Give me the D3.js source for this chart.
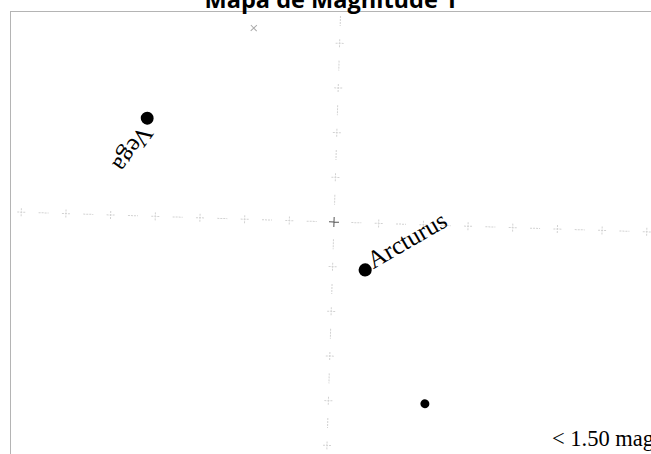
<!DOCTYPE html>
<html>
<head>
<meta charset="utf-8">
<script src="https://cdn.jsdelivr.net/npm/d3@7"></script>
<style>
  html, body { margin: 0; padding: 0; background: #fff; overflow: hidden; }
  svg { display: block; }
</style>
</head>
<body>
<div id="chart"></div>
<script>
// stars in map units (one unit = one grid step)
const starNames = ["Vega", "Arcturus", ""];
const starX = [-4.25, 0.73, 2.16];
const starY = [-2.19, 1.05, 4.0];
const starMag = [0.03, -0.05, 1.25];
const labelAngle = [126, -30, 0];

// grid marks along the two axes
const crossX = [-7, -6, -5, -4, -3, -2, -1, 1, 2, 3, 4, 5, 6, 7];
const crossY = [-4, -3, -2, -1, 1, 2, 3, 4, 5];
const dashX = [-6.5, -5.5, -4.5, -3.5, -2.5, -1.5, -0.5, 0.5, 1.5, 2.5, 3.5, 4.5, 5.5, 6.5, 7.5];
const dashY = [-4.5, -3.5, -2.5, -1.5, -0.5, 0.5, 1.5, 2.5, 3.5, 4.5];
const poleMark = [-1.93, -4.28];

const title = "Mapa de Magnitude 1";
const limitLabel = "< 1.50 mag";

const width = 651;
const height = 454;
const cx = 334, cy = 222, tilt = 1.8, step = 44.7;

const svg = d3.select("#chart")
  .append("svg")
  .attr("width", width)
  .attr("height", height);

// frame
svg.append("rect")
  .attr("x", 10.5).attr("y", 11.5)
  .attr("width", 800).attr("height", 600)
  .attr("fill", "none")
  .attr("stroke", "#b4b4b4");

// title
const t = svg.append("text")
  .attr("x", 331).attr("y", 8)
  .attr("text-anchor", "middle")
  .attr("font-family", "Open Sans, sans-serif")
  .attr("font-weight", "bold")
  .attr("font-size", 20)
  .text(title);
const tw = t.node().getComputedTextLength();
t.attr("font-size", 20 * 253 / tw);

const x = d3.scaleLinear().domain([0, 1]).range([0, step]);
const y = d3.scaleLinear().domain([0, 1]).range([0, step]);
const r = d3.scaleLinear().domain([1.25, 0]).range([4.5, 6.5]);

const map = svg.append("g")
  .attr("transform", `translate(${cx},${cy}) rotate(${tilt})`);

const grid = map.append("g")
  .attr("stroke", "#d2d2d2")
  .attr("stroke-width", 1)
  .attr("stroke-dasharray", "2,1")
  .attr("fill", "none");

// crosses
grid.selectAll(".cx")
  .data(crossX)
  .join("path")
  .attr("d", d => `M${x(d) - 4},0H${x(d) + 4}M${x(d)},-4V4`);
grid.selectAll(".cy")
  .data(crossY)
  .join("path")
  .attr("d", d => `M-4,${y(d)}H4M0,${y(d) - 4}V${y(d) + 4}`);

// dashes between crosses
grid.selectAll(".dx")
  .data(dashX)
  .join("path")
  .attr("d", d => `M${x(d) - 5},0H${x(d) + 5}`);
grid.selectAll(".dy")
  .data(dashY)
  .join("path")
  .attr("d", d => `M0,${y(d) - 5}V${y(d) + 5}`);

// centre cross
map.append("path")
  .attr("d", "M-5,0H5M0,-5V5")
  .attr("stroke", "#555")
  .attr("stroke-width", 1);

// pole mark
map.append("path")
  .attr("d", `M${x(poleMark[0]) - 3},${y(poleMark[1]) - 3}l6,6M${x(poleMark[0]) + 3},${y(poleMark[1]) - 3}l-6,6`)
  .attr("stroke", "#aaa")
  .attr("stroke-width", 1);

// stars
const stars = starNames.map((n, i) => ({ name: n, x: starX[i], y: starY[i], mag: starMag[i], angle: labelAngle[i] }));

map.selectAll("circle")
  .data(stars)
  .join("circle")
  .attr("cx", d => x(d.x))
  .attr("cy", d => y(d.y))
  .attr("r", d => r(d.mag))
  .attr("fill", "#000");

const labelOffset = { "Vega": [-6, 6], "Arcturus": [8, -1] };
map.selectAll(".label")
  .data(stars.filter(d => d.name))
  .join("text")
  .attr("class", "label")
  .attr("transform", d => {
    const o = labelOffset[d.name];
    return `translate(${x(d.x) + o[0]},${y(d.y) + o[1]}) rotate(${d.angle - tilt})`;
  })
  .attr("font-family", "Liberation Serif, serif")
  .attr("font-size", 25)
  .attr("fill", "#000")
  .text(d => d.name);

// magnitude limit
svg.append("text")
  .attr("x", 552).attr("y", 446)
  .attr("font-family", "Liberation Serif, serif")
  .attr("font-size", 22.5)
  .attr("fill", "#000")
  .text(limitLabel);
</script>
</body>
</html>
